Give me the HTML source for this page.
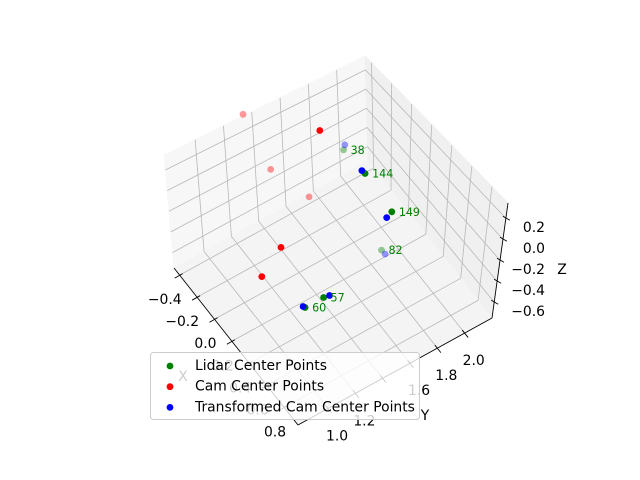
<!DOCTYPE html>
<html><head><meta charset="utf-8"><style>
html,body{margin:0;padding:0;background:#fff;}
svg{display:block;font-family:"DejaVu Sans","Liberation Sans",sans-serif;}
</style></head><body>
<svg id="chart" width="640" height="480" viewBox="0 0 640 480">
<g id="panes"></g>
<g id="grid"></g>
<g id="axes"></g>
<g id="marks"></g>
<g id="legend"></g>
</svg>
<script>
const xRange = [-0.465, 0.96];
const yRange = [0.78, 2.2];
const zRange = [-0.75, 0.345];
const xTicks = [-0.4, -0.2, 0.0, 0.2, 0.4, 0.6, 0.8];
const yTicks = [1.0, 1.2, 1.4, 1.6, 1.8, 2.0];
const zTicks = [-0.6, -0.4, -0.2, 0.0, 0.2];
const lidarX = [-0.206, 0.054, 0.179, 0.145, 0.423, 0.387];
const lidarY = [1.862, 1.838, 1.953, 1.910, 1.301, 1.192];
const lidarZ = [-0.093, -0.038, -0.367, -0.75, -0.476, -0.531];
const lidarIds = ["38", "144", "149", "82", "57", "60"];
const camX = [-0.462, -0.123, -0.395, -0.161, 0.068, 0.115];
const camY = [1.337, 1.638, 1.464, 1.581, 1.226, 1.055];
const camZ = [0.367, 0.345, -0.203, -0.312, -0.312, -0.422];
const transX = [-0.199, 0.025, 0.199, 0.148, 0.431, 0.374];
const transY = [1.866, 1.835, 1.903, 1.936, 1.339, 1.186];
const transZ = [-0.038, -0.038, -0.367, -0.805, -0.476, -0.531];

const NS = "http://www.w3.org/2000/svg";
const B = {o:[174,268], x:[298,425], y:[368,161]};
const T = {o:[164,155], x:[307,302], y:[365,56]};
function bil(F,u,v){return [F.o[0]+u*(F.x[0]-F.o[0])+v*(F.y[0]-F.o[0]), F.o[1]+u*(F.x[1]-F.o[1])+v*(F.y[1]-F.o[1])];}
function norm(x,y,z){return [(x-xRange[0])/(xRange[1]-xRange[0]),(y-yRange[0])/(yRange[1]-yRange[0]),(z-zRange[0])/(zRange[1]-zRange[0])];}
function projN(u,v,w){const b=bil(B,u,v),t=bil(T,u,v);return [b[0]+(t[0]-b[0])*w,b[1]+(t[1]-b[1])*w];}
function proj(x,y,z){const n=norm(x,y,z);return projN(n[0],n[1],n[2]);}
function mk(tag,attrs,parent){const e=document.createElementNS(NS,tag);for(const k in attrs)e.setAttribute(k,attrs[k]);parent.appendChild(e);return e;}
const panes=document.getElementById('panes'),grid=document.getElementById('grid'),axes=document.getElementById('axes'),marks=document.getElementById('marks'),legend=document.getElementById('legend');
function poly(pts,fill,parent,name){const e=mk('polygon',{points:pts.map(p=>p.join(',')).join(' '),fill:fill,stroke:fill,'stroke-width':'1'},parent);

}
poly([projN(0,0,0),projN(0,1,0),projN(0,1,1),projN(0,0,1)],'#f7f7f7',panes,'x-pane');
poly([projN(0,1,0),projN(1,1,0),projN(1,1,1),projN(0,1,1)],'#f0f0f0',panes,'y-pane');
poly([projN(0,0,0),projN(1,0,0),projN(1,1,0),projN(0,1,0)],'#f4f4f4',panes,'z-pane');
function gl(a,b,name){const e=mk('line',{x1:a[0],y1:a[1],x2:b[0],y2:b[1],stroke:'#b8b8b8','stroke-width':'0.8'},grid);

}
xTicks.forEach(t=>{const u=norm(t,0,0)[0];gl(projN(u,0,0),projN(u,1,0),'grid-x-floor');gl(projN(u,1,0),projN(u,1,1),'grid-x-wall');});
yTicks.forEach(t=>{const v=norm(0,t,0)[1];gl(projN(0,v,0),projN(1,v,0),'grid-y-floor');gl(projN(0,v,0),projN(0,v,1),'grid-y-wall');});
zTicks.forEach(t=>{const w=norm(0,0,t)[2];gl(projN(0,0,w),projN(0,1,w),'grid-z-left');gl(projN(0,1,w),projN(1,1,w),'grid-z-back');});
function al(a,b,name){const e=mk('line',{x1:a[0],y1:a[1],x2:b[0],y2:b[1],stroke:'#000','stroke-width':'0.9'},axes);

}
function txt(s,x,y,anchor,size,fill,parent,name){const e=mk('text',{x:x,y:y,'text-anchor':anchor,'font-size':size,fill:fill},parent);e.textContent=s;

return e;}
function lab(t){return (t<0?'\u2212':'')+Math.abs(t).toFixed(1);}
al(projN(0,0,0),projN(1,0,0),'x-axis-line');
al(projN(1,0,0),projN(1,1,0),'y-axis-line');
al(projN(1,1,0),projN(1,1,1),'z-axis-line');
xTicks.forEach(t=>{const p=projN(norm(t,0,0)[0],0,0);al([p[0]+3,p[1]-1.5],[p[0]-5,p[1]+3],'x-tick');txt(lab(t),p[0]+2,p[1]+29,'end','13.9px','#000',axes,'x-tick-label');});
yTicks.forEach(t=>{const p=projN(1,norm(0,t,0)[1],0);al([p[0]-2.5,p[1]-3],[p[0]+3.5,p[1]+4.5],'y-tick');
if(t!==1.4)txt(lab(t),p[0]+9,p[1]+32,'middle','13.9px','#000',axes,'y-tick-label');});
zTicks.forEach(t=>{const p=projN(1,1,norm(0,0,t)[2]);al([p[0]-3,p[1]-2],[p[0]+4,p[1]+2],'z-tick');txt(lab(t),545,p[1]+14,'end','13.9px','#000',axes,'z-tick-label');});
txt('Y',425,420,'middle','13.9px','#000',axes,'y-axis-title');
txt('Z',562,274,'middle','13.9px','#000',axes,'z-axis-title');
txt('X',183,381,'middle','13.9px','#000',axes,'x-axis-title');

function alphaOf(x,y,z){const n=norm(x,y,z);const d=n[0]-0.3*n[1]+0.2*n[2];return d<0.2?0.4:1;}
function series(X,Y,Z,color,name){X.forEach((x,i)=>{const p=proj(x,Y[i],Z[i]);
const c=mk('circle',{cx:p[0].toFixed(1),cy:p[1].toFixed(1),r:3.4,fill:color,'fill-opacity':alphaOf(x,Y[i],Z[i]),stroke:'none'},marks);

});}
series(lidarX,lidarY,lidarZ,'#008000','lidar-point');
series(camX,camY,camZ,'#ff0000','cam-point');
series(transX,transY,transZ,'#0000ff','transformed-point');
lidarX.forEach((x,i)=>{const p=proj(x,lidarY[i],lidarZ[i]);txt(lidarIds[i],p[0]+7,p[1]+4,'start','11.1px','#008000',marks,'point-id-label');});

const box=mk('rect',{x:150.5,y:352.5,width:269,height:67,rx:3,fill:'#fff','fill-opacity':0.8,stroke:'#cccccc','stroke-width':1},legend);


const legNames=['Lidar Center Points','Cam Center Points','Transformed Cam Center Points'];
const legColors=['#008000','#ff0000','#0000ff'];
legNames.forEach((s,i)=>{const y=365+i*20.7;
const m=mk('circle',{cx:170,cy:y+1,r:3.4,fill:legColors[i]},legend);


txt(s,195,y+5,'start','13.9px','#000',legend,'legend-entry');});
</script>
</body></html>
